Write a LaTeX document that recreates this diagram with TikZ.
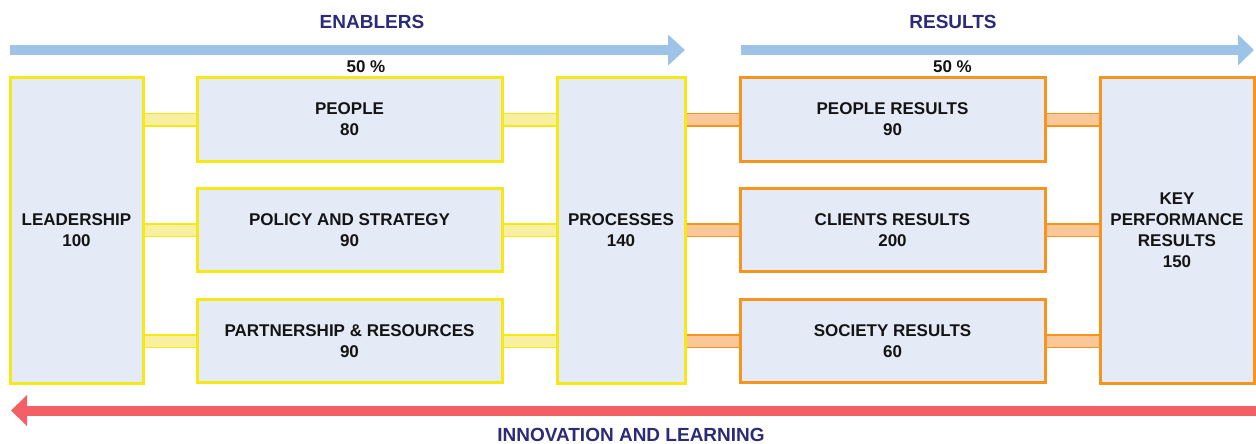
\documentclass[tikz,border=0pt]{standalone}
\usepackage{fontspec}
\setmainfont{Liberation Sans}
\usetikzlibrary{arrows.meta}
\definecolor{boxfill}{RGB}{229,235,246}
\definecolor{yellowline}{RGB}{245,232,20}
\definecolor{yellowfill}{RGB}{248,240,160}
\definecolor{orangeline}{RGB}{247,148,30}
\definecolor{orangefill}{RGB}{250,200,152}
\definecolor{bluearrow}{RGB}{157,196,232}
\definecolor{redarrow}{RGB}{242,96,102}
\definecolor{titleblue}{RGB}{43,43,120}
\definecolor{textblack}{RGB}{20,20,20}
\begin{document}
\begin{tikzpicture}[x=1pt,y=-1pt,>={Triangle[length=17pt,width=30pt]},
                enabler/.style={draw=yellowline,line width=3pt,fill=boxfill,text=textblack,align=center,
                                inner sep=0pt,font=\fontsize{17}{21}\selectfont\bfseries},
                result/.style={enabler,draw=orangeline},
                ylink/.style={draw=yellowline,line width=1.5pt,double=yellowfill,double distance=11pt},
                olink/.style={draw=orangeline,line width=1.5pt,double=orangefill,double distance=11pt},
                heading/.style={text=titleblue,font=\fontsize{19}{23}\selectfont\bfseries,inner sep=0pt},
                share/.style={text=textblack,font=\fontsize{17}{21}\selectfont\bfseries,inner sep=0pt}]
                \useasboundingbox (0,0) rectangle (1256,444);
                \node[enabler,minimum width=133pt,minimum height=305pt] (lead) at (76.5,230.5) {LEADERSHIP\\100};
                \node[enabler,minimum width=305pt,minimum height=83pt] (people) at (349.5,119.5) {PEOPLE\\80};
                \node[enabler,minimum width=305pt,minimum height=83pt] (policy) at (349.5,230) {POLICY AND STRATEGY\\90};
                \node[enabler,minimum width=305pt,minimum height=83pt] (partner) at (349.5,341) {PARTNERSHIP \& RESOURCES\\90};
                \node[enabler,minimum width=128pt,minimum height=305pt] (proc) at (621,230.5) {PROCESSES\\140};
                \node[result,minimum width=305pt,minimum height=83pt] (peopleres) at (892.5,119.5) {PEOPLE RESULTS\\90};
                \node[result,minimum width=305pt,minimum height=83pt] (clientres) at (892.5,230) {CLIENTS RESULTS\\200};
                \node[result,minimum width=305pt,minimum height=83pt] (societyres) at (892.5,341) {SOCIETY RESULTS\\60};
                \node[result,minimum width=154pt,minimum height=305pt] (keyres) at (1177,230.5) {KEY\\PERFORMANCE\\RESULTS\\150};
                \draw[ylink] (lead.east |- people.west) -- (people.west);
                \draw[ylink] (lead.east |- policy.west) -- (policy.west);
                \draw[ylink] (lead.east |- partner.west) -- (partner.west);
                \draw[ylink] (people.east) -- (proc.west |- people.east);
                \draw[ylink] (policy.east) -- (proc.west |- policy.east);
                \draw[ylink] (partner.east) -- (proc.west |- partner.east);
                \draw[olink] (proc.east |- peopleres.west) -- (peopleres.west);
                \draw[olink] (proc.east |- clientres.west) -- (clientres.west);
                \draw[olink] (proc.east |- societyres.west) -- (societyres.west);
                \draw[olink] (peopleres.east) -- (keyres.west |- peopleres.east);
                \draw[olink] (clientres.east) -- (keyres.west |- clientres.east);
                \draw[olink] (societyres.east) -- (keyres.west |- societyres.east);
                \coordinate (enabstart) at (10,50);
                \coordinate (enabend) at (685,50);
                \coordinate (resstart) at (741,50);
                \coordinate (resend) at (1254,50);
                \coordinate (learnstart) at (1256,410.5);
                \coordinate (learnend) at (11,410.5);
                \draw[->,draw=bluearrow,line width=10pt] (enabstart) -- (enabend);
                \draw[-{Triangle[length=16pt,width=30pt]},draw=bluearrow,line width=10pt] (resstart) -- (resend);
                \draw[-{Triangle[length=16pt,width=30pt]},draw=redarrow,line width=10pt] (learnstart) -- (learnend);
                \node[heading] (enablers) at (372,21.5) {ENABLERS};
                \node[heading] (results) at (953,21.5) {RESULTS};
                \node[heading] (learning) at (631,435) {INNOVATION AND LEARNING};
                \node[share] (enabshare) at (366,67) {50 \%};
                \node[share] (resshare) at (952.5,67) {50 \%};
            \end{tikzpicture}
\end{document}
